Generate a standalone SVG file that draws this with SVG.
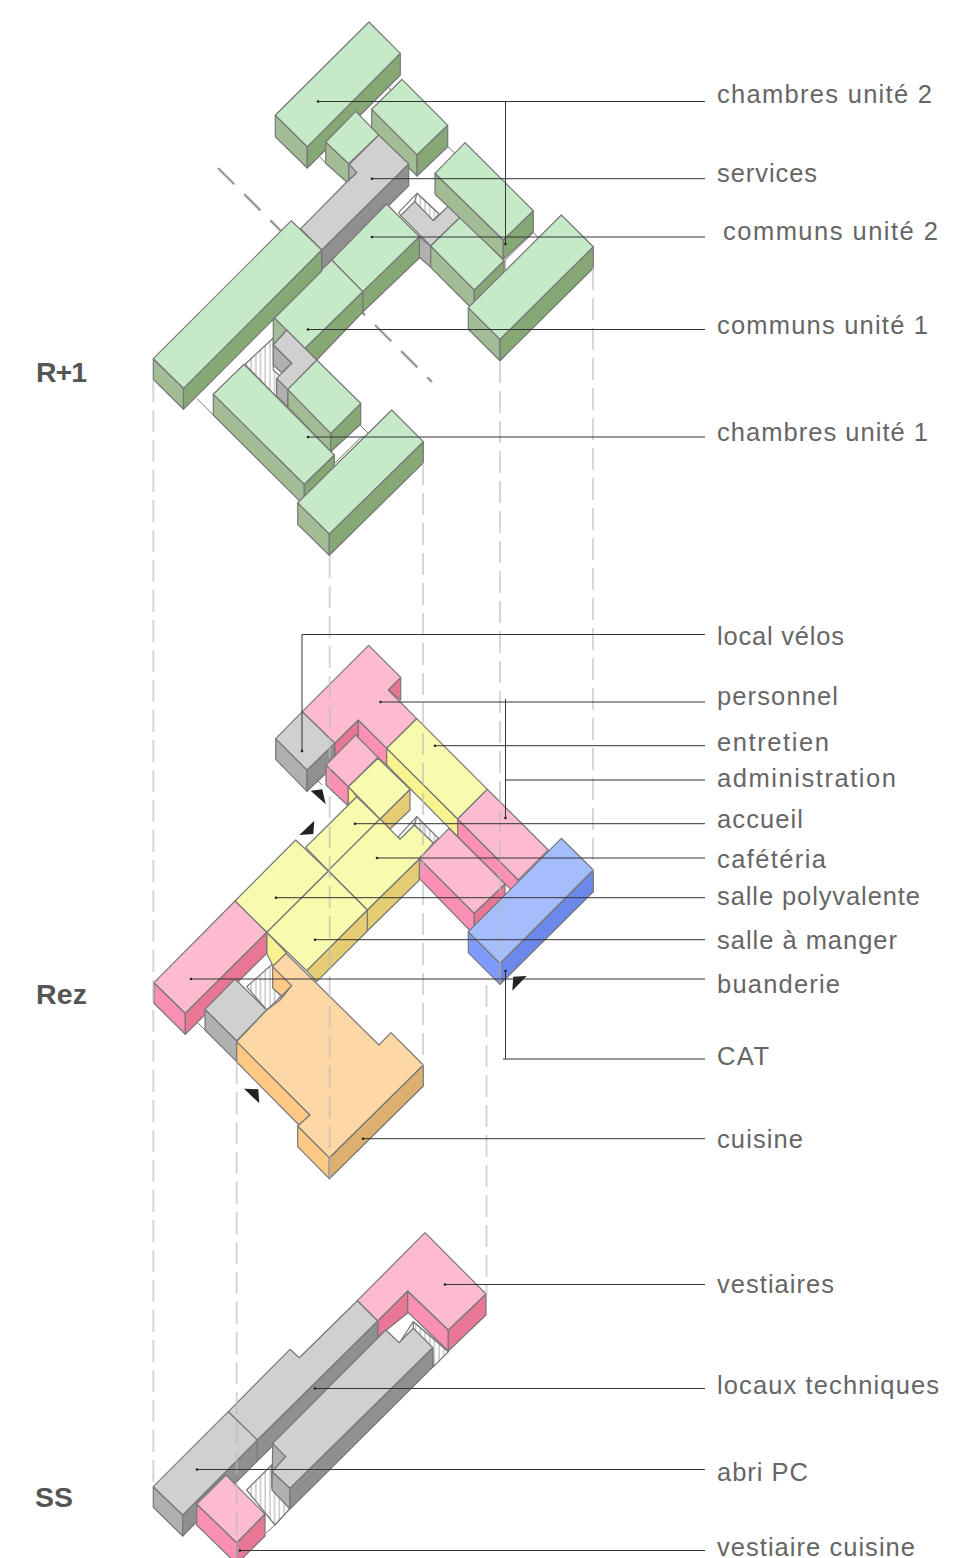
<svg xmlns="http://www.w3.org/2000/svg" width="968" height="1558" viewBox="0 0 968 1558">
<style>
polygon,path{stroke:#777;stroke-width:1.2;stroke-linejoin:round}
.gt{fill:#c6eac8}.gl{fill:#a2bc95}.gr{fill:#85a874}
.st{fill:#d0d0d0}.sl{fill:#b0b0b0}.sr{fill:#909090}
.pt{fill:#fdbbd0}.pl{fill:#fb90b4}.pr{fill:#e87795}
.yt{fill:#f8fbad}.yl{fill:#f9f38f}.yr{fill:#e4cd72}
.ot{fill:#fdd8a4}.ol{fill:#fec985}.or{fill:#ddb06f}
.bt{fill:#a5bcfd}.bl{fill:#7e9bfb}.br{fill:#6a89ea}
.h{fill:url(#hatch)}
.n{fill:#fff}
.f{fill:none;stroke:#777;stroke-width:1}
.tri{fill:#222;stroke:none}
.guide{fill:none;stroke:#bbb;stroke-opacity:.6;stroke-width:2;stroke-dasharray:22 8}
.section{fill:none;stroke:#999;stroke-width:2.4;stroke-dasharray:23 14}
.lead{fill:none;stroke:#333;stroke-width:1}
.dot{fill:#222;stroke:none}
text{font-family:"Liberation Sans",Arial,sans-serif}
.lab{font-size:25.5px;fill:#666}
.lvl{font-size:28.5px;font-weight:700;fill:#555}
</style>
<defs>
<pattern id="hatch" width="4.7" height="10" patternUnits="userSpaceOnUse"><rect width="4.7" height="10" fill="#fff"/><line x1="2" y1="0" x2="2" y2="10" stroke="#aaa" stroke-width="1"/></pattern>
</defs>
<rect width="968" height="1558" fill="#fff"/>

<g id="section-line"><line class="section" x1="218" y1="168" x2="432" y2="382"/></g>

<g id="level-r1">
<g id="r1-grounds">
<path class="f" d="M320 156.700L325.700 163.300M388 87L392 91M448 146.700L455 153.300M505 260L533.300 232.700L539 238.300M505 260V270M196.700 398.300L213.300 415M335 463L361.700 436.700M360 425L368 433"/>
<polygon class="h" points="245,364.300 273.300,338 273.300,370 280,376 276.700,380 276.700,397"/>
<polygon class="n" points="398.700,212.300 417,193.300 439,214 433.300,220.700 414.700,201.700 400.700,215.700"/>
<polygon class="h" points="417,193.300 439,214 433.300,220.700 414.700,201.700 "/>
</g>
<g id="r1-chambres-2a">
<polygon class="gl" points="275.300,115.300 307.300,146.700 307.300,168 275.300,136.700"/>
<polygon class="gr" points="307.300,146.700 400.300,53.300 400.300,75 307.300,168"/>
<polygon class="gt" points="369,22 400.300,53.300 307.300,146.700 275.300,115.300"/>
</g>
<g id="r1-chambres-2b">
<polygon class="gl" points="371.700,109.300 417,154.700 417,176 371.700,130.700"/>
<polygon class="gr" points="417,154.700 447.700,125.300 447.700,146.700 417,176"/>
<polygon class="gt" points="402,79.300 447.700,125.300 417,154.700 371.700,109.300"/>
</g>
<g id="r1-services">
<polygon class="sr" points="408.700,164 408.700,185.700 321.700,272 321.700,250"/>
<polygon class="st" points="378.700,135 408.700,164 321.700,250 300.700,228.700 346.700,182 356.700,172.700 348.700,165"/>
<polygon class="sl" points="348.700,163.700 356.700,172.700 348.700,180"/>
</g>
<g id="r1-chambres-2c">
<polygon class="gl" points="325.700,142 348.700,163.700 348.700,180 346.700,182 325.700,163.300"/>
<polygon class="gt" points="355.700,111.300 378.700,135 348.700,163.700 325.700,142"/>
</g>
<g id="r1-services-b">
<polygon class="sl" points="419.300,236.700 430.700,246 430.700,267.300 419.300,257.300"/>
<polygon class="st" points="400.700,215.700 414.700,201.700 433.300,220.700 449.300,205 460.700,216.700 430.700,246"/>
</g>
<g id="r1-chambres-2d">
<polygon class="gl" points="430.700,246 474.300,290 474.300,311 430.700,267.300"/>
<polygon class="gr" points="474.300,290 504,260.700 504,282 474.300,311"/>
<polygon class="gt" points="460.700,216.700 504,260.700 474.300,290 430.700,246"/>
</g>
<g id="r1-chambres-2e">
<polygon class="gl" points="435,173.300 503.300,240 503.300,259.300 435,194.300"/>
<polygon class="gr" points="503.300,240 533.300,210.700 533.300,231.700 503.300,259.300"/>
<polygon class="gt" points="465,142.700 533.300,210.700 503.300,240 435,173.300"/>
</g>
<g id="r1-chambres-2f">
<polygon class="gl" points="468.300,307.700 500,339.300 500,360.700 468.300,329.300"/>
<polygon class="gr" points="500,339.300 593.300,246.700 593.300,268 500,360.700"/>
<polygon class="gt" points="561.300,215 593.300,246.700 500,339.300 468.300,307.700"/>
</g>
<g id="r1-communs-2">
<polygon class="gr" points="419.300,236.700 419.300,258 362.700,312 362.700,291"/>
<polygon class="gt" points="386.700,204 419.300,236.700 362.700,291.700 331.700,260"/>
</g>
<g id="r1-communs-1">
<polygon class="gl" points="273.300,316.700 287,330 273.300,345"/>
<polygon class="gr" points="362.700,291.700 362.700,312 316.700,360 305,348.300"/>
<polygon class="gt" points="331.700,260 362.700,291.700 305,348.300 273.300,316.700"/>
</g>
<g id="r1-communs-long">
<polygon class="gl" points="153.300,358.700 183.500,388.300 183.500,409.300 153.300,379.300"/>
<polygon class="gr" points="183.500,388.300 321.700,250 321.700,271 183.500,409.300"/>
<polygon class="gt" points="291.300,220.700 321.700,250 183.500,388.300 153.300,358.700"/>
</g>
<g id="r1-chambres-1a">
<polygon class="gl" points="287.700,389.300 330.700,433.300 330.700,451.700 287.700,406.700"/>
<polygon class="gr" points="330.700,433.300 360.700,403.300 360.700,424 330.700,451.700"/>
<polygon class="gt" points="316.700,360 360.700,403.300 330.700,433.300 287.700,389.300"/>
</g>
<g id="r1-services-c">
<polygon class="sl" points="276.700,378.300 287.700,389.300 287.700,407 276.700,396"/>
<polygon class="st" points="286.700,330 316.700,360 287.700,389.300 276.700,378.300 291.700,363.300 273.300,345"/>
<polygon class="sl" points="273.300,345 291.700,363.300 281.700,372.700 273.300,365"/>
</g>
<g id="r1-chambres-1b">
<polygon class="gl" points="213.300,394.300 304.300,484.300 304.300,505.700 213.300,415"/>
<polygon class="gr" points="304.300,484.300 334.300,455 334.300,475 304.300,505.700"/>
<polygon class="gt" points="244,364.300 334.300,455 304.300,484.300 213.300,394.300"/>
</g>
<g id="r1-chambres-1c">
<polygon class="gl" points="297.700,502.700 329.300,534 329.300,555.300 297.700,524.300"/>
<polygon class="gr" points="329.300,534 423.300,441.700 423.300,462.700 329.300,555.300"/>
<polygon class="gt" points="391.700,410 423.300,441.700 329.300,534 297.700,502.700"/>
</g>
</g>

<g id="level-rez">
<g id="rez-grounds">
<polygon class="n" points="398.300,836.700 416.700,816.700 438.300,838.300 433.300,843.300 414.300,825 400,839.300"/>
<polygon class="h" points="416.700,816.700 438.300,838.300 433.300,843.300 414.300,825"/>
<polygon class="h" points="246.700,986.700 275,961.700 275,990 281.700,996 266.700,1010"/>
<path class="f" d="M266.700 955L275 962M198 1023L205 1030M322 785L316 779"/>
</g>
<g id="rez-personnel">
<polygon class="pr" points="334.700,743.300 358.300,720 358.300,741 334.700,765"/>
<polygon class="pl" points="358.300,720 386.700,748.300 386.700,765 358.300,741"/>
<polygon class="pr" points="400.700,677.300 400.700,700 388.300,690"/>
<polygon class="pt" points="368.700,645.300 400.700,677.300 388.300,690 416.700,718.700 386.700,748.300 358.300,720 334.700,743.300 302.300,711.700"/>
</g>
<g id="rez-local-velos">
<polygon class="sl" points="275.700,738.700 307,770 307,791.300 275.700,759.300"/>
<polygon class="sr" points="307,770 334.700,743.300 334.700,765 307,791.300"/>
<polygon class="st" points="302.300,711.700 334.700,743.300 307,770 275.700,738.700"/>
</g>
<g id="rez-entretien">
<polygon class="yl" points="386.700,748.300 457.700,819 457.700,836.700 386.700,765"/>
<polygon class="yt" points="416.700,718.700 487.300,789.300 457.700,819 386.700,748.300"/>
</g>
<g id="rez-administration">
<polygon class="pl" points="457.700,819 518.300,880 518.300,897 457.700,836.700"/>
<polygon class="pt" points="487.300,789.300 548.300,850 518.300,880 457.700,819"/>
</g>
<g id="rez-pink-small">
<polygon class="pl" points="326,765 348.300,786.700 348.300,806 326,785"/>
<polygon class="pt" points="355.700,735 378,757.300 348.300,786.700 326,765"/>
</g>
<g id="rez-accueil">
<polygon class="yl" points="348.300,786.700 357,796.700 348.300,805"/>
<polygon class="yr" points="410,789.300 410,810 390,829 380,819"/>
<polygon class="yt" points="356.700,796.700 380,819 328.300,870.700 305.700,847.300"/>
<polygon class="yt" points="378,758.300 410,789.300 380,819 348.300,786.700"/>
</g>
<g id="rez-cafeteria">
<polygon class="yr" points="420,858.300 419.300,880 367.300,931 367.300,910"/>
<polygon class="yt" points="380,819 400,839.300 414.300,825 433.300,843 420,858.300 367.300,910 328.300,870.700"/>
</g>
<g id="rez-salle-a-manger">
<polygon class="yr" points="367.300,910 367.300,931 316.700,981.700 306.700,970.700"/>
<polygon class="yt" points="328.300,871 367.300,910 306.700,970.700 266.700,932.300"/>
</g>
<g id="rez-salle-polyvalente">
<polygon class="yt" points="295.700,840 328.300,871 266.700,932.300 235,901"/>
</g>
<g id="rez-buanderie">
<polygon class="yl" points="266.700,932.300 286.700,953 273,966 266.700,953.300"/>
<polygon class="pl" points="154,982.700 185.300,1013.300 185.300,1034.300 154,1003.300"/>
<polygon class="pr" points="185.300,1013.300 266.700,932.300 266.700,953.300 185.300,1034.300"/>
<polygon class="pt" points="235,901 266.700,932.300 185.300,1013.300 154,982.700"/>
</g>
<g id="rez-pink-block">
<polygon class="pl" points="419.300,858.300 474.300,913.300 474.300,935 419.300,878.300"/>
<polygon class="pr" points="474.300,913.300 505,884 505,905 474.300,935"/>
<polygon class="pt" points="449,828.300 505,884 474.300,913.300 419.300,858.300"/>
</g>
<g id="rez-cat">
<polygon class="bl" points="468.300,931.700 500,963.300 500,984.300 468.300,952.700"/>
<polygon class="br" points="500,963.300 593.300,870 593.300,891.700 500,984.300"/>
<polygon class="bt" points="561.300,838.300 593.300,870 500,963.300 468.300,931.700"/>
</g>
<g id="rez-grey">
<polygon class="sl" points="205,1009.300 236.700,1040.700 236.700,1061.700 205,1030"/>
<polygon class="st" points="235,979 266.700,1010 236.700,1040.700 205,1009.300"/>
</g>
<g id="rez-cuisine">
<polygon class="ol" points="272.700,966.700 291.700,985.700 281.700,996 272.700,988"/>
<polygon class="ol" points="236.700,1041.700 310,1115 299,1125 236.700,1062"/>
<polygon class="ol" points="297.700,1126 329.300,1157.700 329.300,1178.700 297.700,1146.700"/>
<polygon class="or" points="329.300,1157.700 423.300,1065 423.300,1086 329.300,1178.700"/>
<polygon class="ot" points="286,953.300 379,1045 391,1032.700 423.300,1065 329.300,1157.700 297.700,1126 310,1115 236.700,1041.700 266.700,1010 280,1000 291.700,985.700 272.700,966.700"/>
</g>
<polygon class="tri" points="310.700,790.700 322.300,789.300 325.700,804.300"/>
<polygon class="tri" points="299.300,835 314.300,820.700 313.300,834"/>
<polygon class="tri" points="512.300,990.700 513.300,976.700 526.700,976"/>
<polygon class="tri" points="244,1088.700 258.300,1089.300 259.300,1103.300"/>
</g>

<g id="level-ss">
<g id="ss-grounds">
<polygon class="n" points="398,1345 413.300,1321.700 448.300,1351.700 433.300,1366.700 413.300,1328.300 399.300,1342.700"/>
<polygon class="h" points="413.300,1321.700 448.300,1351.700 433.300,1366.700 432.700,1347.700 413.300,1328.300"/>
<polygon class="h" points="246.700,1490 271.700,1465 271.700,1486.700 290,1508.300 275,1525"/>
<path class="f" d="M290 1509L275 1525L266 1533"/>
</g>
<g id="ss-vestiaires">
<polygon class="pr" points="377.700,1321 407.700,1291 407.700,1313 377.700,1337"/>
<polygon class="pl" points="407.700,1291 448.300,1330 448.300,1351 407.700,1312"/>
<polygon class="pr" points="448.300,1330 486,1294 486,1315 448.300,1351"/>
<polygon class="pt" points="425,1232.700 486,1294 448.300,1330 407.700,1291 377.700,1321 357.300,1300.700"/>
</g>
<g id="ss-locaux-techniques">
<polygon class="sr" points="377.700,1321 377.700,1342 257.300,1461 257.300,1440"/>
<polygon class="st" points="357.300,1300.700 377.700,1321 257.300,1440 228.300,1411.700 290,1349.300 299.300,1357.700"/>
</g>
<g id="ss-abri-pc">
<polygon class="sl" points="153.300,1486.700 182.700,1515 182.700,1536 153.300,1507.300"/>
<polygon class="sr" points="257.300,1440 257.300,1461 182.700,1536 182.700,1515"/>
<polygon class="st" points="228.300,1411.700 257.300,1440 182.700,1515 153.300,1486.700"/>
</g>
<g id="ss-locaux-b">
<polygon class="sl" points="272.300,1471.700 290,1488.300 290,1509 272,1490"/>
<polygon class="sr" points="432.700,1347.700 432.700,1367 290,1509 290,1488.300"/>
<polygon class="sl" points="272.700,1443.300 285.700,1456.700 272.300,1471.700"/>
<polygon class="st" points="385.700,1330 399.300,1342.700 413.300,1328.300 432.700,1347.700 290,1488.300 272.300,1471.700 285.700,1456.700 272.700,1443.300"/>
</g>
<g id="ss-vestiaire-cuisine">
<polygon class="pl" points="196.700,1504 236.700,1542.700 236.700,1564 196.700,1525"/>
<polygon class="pr" points="236.700,1542.700 265,1514 265,1536 236.700,1564"/>
<polygon class="pt" points="226,1475 265,1514 236.700,1542.700 196.700,1504"/>
</g>
</g>

<g id="guides">
<line class="guide" x1="153.300" y1="380" x2="153.300" y2="1487"/>
<line class="guide" x1="329.700" y1="556" x2="329.700" y2="1180"/>
<line class="guide" x1="423" y1="463" x2="423" y2="1066"/>
<line class="guide" x1="500" y1="361" x2="500" y2="985"/>
<line class="guide" x1="593" y1="268" x2="593" y2="871"/>
<line class="guide" x1="486.500" y1="985" x2="486.500" y2="1295"/>
<line class="guide" x1="236.700" y1="1062" x2="236.700" y2="1558"/>
</g>

<g id="connectors">
<path class="lead" d="M318 101.500H705M505.500 101.500V244M372 178.700H705M372 237H705M308 329.500H705M308 437H705"/>
<path class="lead" d="M302 634.500H705M302 634.500V751M380.500 702H705M435 745.700H705M505.500 699V818M505.500 780H705M355 823.700H705M377 858H705M276 897.700H705M315 939.700H705M191 979H705M505.500 971V1059M503 1059H705M363 1138.700H705"/>
<path class="lead" d="M445 1284.500H705M315 1388.500H705M197 1469.500H705M240 1550.500H705"/>
<g class="dots">
<circle class="dot" cx="318" cy="101.500" r="1.300"/><circle class="dot" cx="505.500" cy="244" r="1.300"/><circle class="dot" cx="372" cy="178.700" r="1.300"/><circle class="dot" cx="372" cy="237" r="1.300"/><circle class="dot" cx="308" cy="329.500" r="1.300"/><circle class="dot" cx="308" cy="437" r="1.300"/>
<circle class="dot" cx="302" cy="751" r="1.300"/><circle class="dot" cx="380.500" cy="702" r="1.300"/><circle class="dot" cx="435" cy="745.700" r="1.300"/><circle class="dot" cx="505.500" cy="818" r="1.300"/><circle class="dot" cx="355" cy="823.700" r="1.300"/><circle class="dot" cx="377" cy="858" r="1.300"/><circle class="dot" cx="276" cy="897.700" r="1.300"/><circle class="dot" cx="315" cy="939.700" r="1.300"/><circle class="dot" cx="191" cy="979" r="1.300"/><circle class="dot" cx="505.500" cy="971" r="1.300"/><circle class="dot" cx="363" cy="1138.700" r="1.300"/>
<circle class="dot" cx="445" cy="1284.500" r="1.300"/><circle class="dot" cx="315" cy="1388.500" r="1.300"/><circle class="dot" cx="197" cy="1469.500" r="1.300"/><circle class="dot" cx="240" cy="1550.500" r="1.300"/>
</g>
</g>

<g id="labels">
<text class="lab" x="717" y="103" textLength="215">chambres unité 2</text>
<text class="lab" x="717" y="182" textLength="100">services</text>
<text class="lab" x="723" y="240" textLength="215">communs unité 2</text>
<text class="lab" x="717" y="334" textLength="211">communs unité 1</text>
<text class="lab" x="717" y="441" textLength="211">chambres unité 1</text>
<text class="lab" x="717" y="645" textLength="127">local vélos</text>
<text class="lab" x="717" y="705" textLength="121">personnel</text>
<text class="lab" x="717" y="751" textLength="112">entretien</text>
<text class="lab" x="717" y="787" textLength="179">administration</text>
<text class="lab" x="717" y="828" textLength="86">accueil</text>
<text class="lab" x="717" y="868" textLength="109">cafétéria</text>
<text class="lab" x="717" y="905" textLength="203">salle polyvalente</text>
<text class="lab" x="717" y="949" textLength="180">salle à manger</text>
<text class="lab" x="717" y="993" textLength="123">buanderie</text>
<text class="lab" x="717" y="1065" textLength="52">CAT</text>
<text class="lab" x="717" y="1148" textLength="86">cuisine</text>
<text class="lab" x="717" y="1293" textLength="117">vestiaires</text>
<text class="lab" x="717" y="1394" textLength="222">locaux techniques</text>
<text class="lab" x="717" y="1481" textLength="91">abri PC</text>
<text class="lab" x="717" y="1556" textLength="198">vestiaire cuisine</text>
<text class="lvl" x="36" y="382" textLength="51">R+1</text>
<text class="lvl" x="36" y="1004" textLength="51">Rez</text>
<text class="lvl" x="35" y="1507" textLength="38">SS</text>
</g>
</svg>
